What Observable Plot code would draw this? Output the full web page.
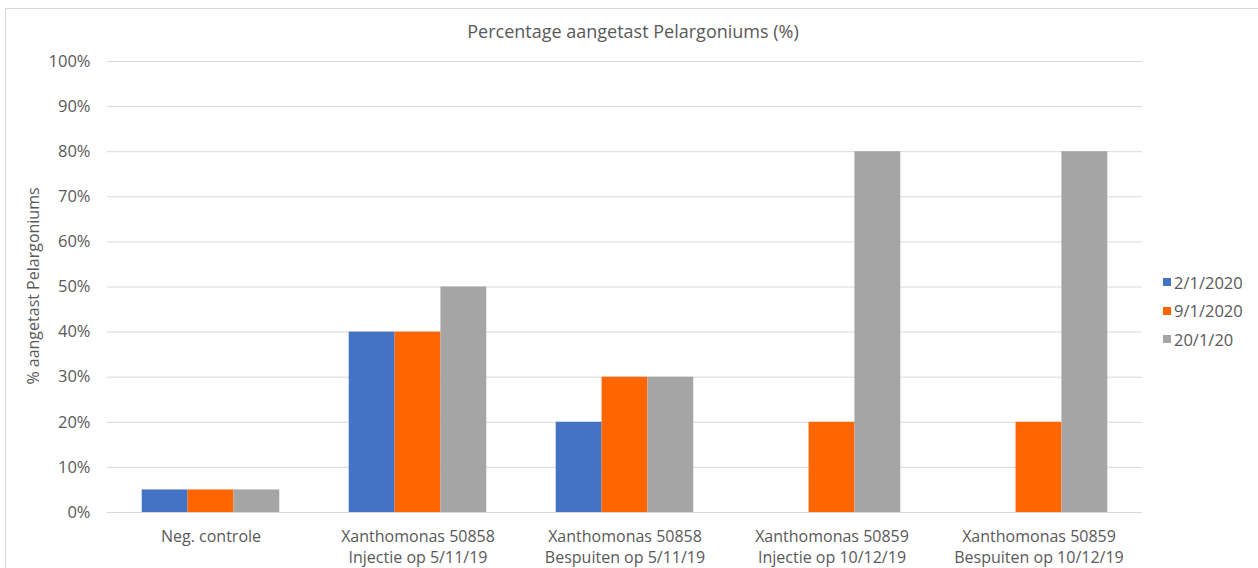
<!DOCTYPE html>
<html>
<head>
<meta charset="utf-8">
<script src="https://cdn.jsdelivr.net/npm/d3@7"></script>
<script src="https://cdn.jsdelivr.net/npm/@observablehq/plot@0.6"></script>
<style>
  html, body { margin: 0; padding: 0; background: #fff; }
  #chart { position: relative; width: 1258px; height: 568px; overflow: hidden; font-family: "Open Sans", sans-serif; color: #595959; }
  #frame { position: absolute; left: 5px; top: 8px; width: 1270px; height: 600px; border: 1px solid #d9d9d9; box-sizing: border-box; }
  #title { position: absolute; left: 0; width: 1266px; top: 19px; text-align: center; font-size: 18px; color: #595959; }
  #ylabel { position: absolute; left: 33px; top: 286px; transform: translate(-50%, -50%) rotate(-90deg); white-space: nowrap; font-size: 16px; color: #595959; }
  #legend { position: absolute; left: 1163px; top: 268px; font-size: 16.5px; color: #595959; }
  #legend div { height: 28.5px; display: flex; align-items: center; }
  #legend span.sw { display: inline-block; width: 8px; height: 8px; margin-right: 3px; }
  #plot { position: absolute; left: 0; top: 0; }
</style>
</head>
<body>
<div id="chart">
  <div id="frame"></div>
  <div id="plot"></div>
  <div id="title">Percentage aangetast Pelargoniums (%)</div>
  <div id="ylabel">% aangetast Pelargoniums</div>
  <div id="legend"></div>
</div>
<script>
// Treatments (x groups), with their two-line labels
const categories = [
  "Neg. controle",
  "Xanthomonas 50858\nInjectie op 5/11/19",
  "Xanthomonas 50858\nBespuiten op 5/11/19",
  "Xanthomonas 50859\nInjectie op 10/12/19",
  "Xanthomonas 50859\nBespuiten op 10/12/19"
];
// Observation dates
const dates = ["2/1/2020", "9/1/2020", "20/1/20"];
const colors = ["#4472C4", "#FF6600", "#A5A5A5"];
// Share of affected plants per treatment, one array per date
const values_2jan = [0.05, 0.40, 0.20, 0, 0];
const values_9jan = [0.05, 0.40, 0.30, 0.20, 0.20];
const values_20jan = [0.05, 0.50, 0.30, 0.80, 0.80];
const yTicks = [0, 0.1, 0.2, 0.3, 0.4, 0.5, 0.6, 0.7, 0.8, 0.9, 1.0];

const series = [values_2jan, values_9jan, values_20jan];
const data = [];
categories.forEach((c, i) => {
  dates.forEach((d, j) => {
    data.push({category: c, date: d, value: series[j][i]});
  });
});

const plot = Plot.plot({
  width: 1258,
  height: 568,
  marginTop: 61,
  marginBottom: 56,
  marginLeft: 105,
  marginRight: 115,
  style: {fontFamily: "'Open Sans', sans-serif", fontSize: "16px", color: "#595959", background: "transparent"},
  fx: {domain: categories, padding: 0, axis: null},
  x: {domain: dates, paddingInner: 0, paddingOuter: 0.757, axis: null, round: false},
  y: {domain: [0, 1], axis: null},
  color: {domain: dates, range: colors},
  marks: [
    Plot.gridY(yTicks, {stroke: "#d9d9d9", strokeOpacity: 1, strokeWidth: 1, facetAnchor: null}),
    Plot.axisY({ticks: yTicks, tickFormat: d3.format(".0%"), tickSize: 0, tickPadding: 17, fill: "#595959", fontSize: 16.5, label: null, facetAnchor: "left"}),
    Plot.barY(data, {fx: "category", x: "date", y: "value", fill: "date", insetLeft: 0, insetRight: 0}),
    Plot.text(categories, {fx: d => d, text: d => d, frameAnchor: "bottom", lineAnchor: "top", dy: 14, lineHeight: 1.32, fill: "#595959", fontSize: 16})
  ]
});
document.getElementById("plot").appendChild(plot);

const legend = document.getElementById("legend");
dates.forEach((d, j) => {
  const row = document.createElement("div");
  const sw = document.createElement("span");
  sw.className = "sw";
  sw.style.background = colors[j];
  row.appendChild(sw);
  row.appendChild(document.createTextNode(d));
  legend.appendChild(row);
});
</script>
</body>
</html>
